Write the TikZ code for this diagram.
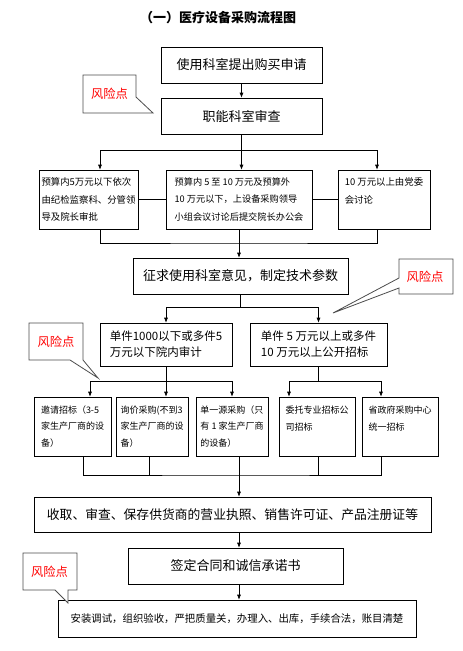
\documentclass[tikz,border=0pt]{standalone}
\usepackage{fontspec}
\setmainfont{Noto Sans CJK SC}
\usetikzlibrary{arrows.meta}
\begin{document}
\begin{tikzpicture}[x=1pt, y=-1pt, line width=0.6pt]
  \tikzset{
    box/.style={draw=black, inner sep=2pt, align=center, font=\fontsize{13}{15}\selectfont},
    cell/.style={draw=black, inner sep=2pt, align=left},
    tall/.style={cell, minimum height=59pt},
    flow/.style={draw=black, -{Latex[length=5pt,width=4pt]}},
    risk/.style={draw=black!70, fill=white, line width=0.8pt},
    risktext/.style={text=red, font=\fontsize{12.3}{14}\selectfont}
  }
  \useasboundingbox (0,0) rectangle (463,651);

  \node (title) at (218,18) {\bfseries\fontsize{13}{15}\selectfont （一）医疗设备采购流程图};

  \node[box, minimum width=161pt, minimum height=36pt] (apply) at (241.5,65) {使用科室提出购买申请};
  \node[box, minimum width=161pt, minimum height=36pt] (review) at (241.5,116) {职能科室审查};

  \node[tall, minimum width=99pt, font=\fontsize{9.4}{17.5}\selectfont] (small) at (88.5,199.5)
    {预算内5万元以下依次\\由纪检监察科、分管领\\导及院长审批};
  \node[tall, minimum width=146pt, font=\fontsize{9.2}{17.5}\selectfont] (middle) at (239,199.5)
    {预算内 5 至 10 万元及预算外\\10 万元以下，上设备采购领导\\小组会议讨论后提交院长办公会};
  \node[tall, minimum width=92pt, font=\fontsize{9.4}{17.5}\selectfont] (large) at (384,199.5)
    {10 万元以上由党委\\会讨论\\~};

  \node[box, minimum width=215pt, minimum height=36pt] (param) at (240.5,276) {征求使用科室意见，制定技术参数};

  \node[cell, minimum width=132pt, minimum height=43pt, font=\fontsize{11.5}{16}\selectfont] (inhouse) at (166,344.5)
    {单件1000以下或多件5\\万元以下院内审计};
  \node[cell, minimum width=137pt, minimum height=43pt, font=\fontsize{11.5}{16}\selectfont] (open) at (318.5,344.5)
    {单件 5 万元以上或多件\\10 万元以上公开招标};

  \node[tall, minimum width=77pt, font=\fontsize{9}{16.5}\selectfont] (invite) at (72.5,426.5)
    {邀请招标（3-5\\家生产厂商的设\\备）};
  \node[tall, minimum width=72pt, font=\fontsize{9}{16.5}\selectfont] (inquiry) at (152,426.5)
    {询价采购(不到3\\家生产厂商的设\\备）};
  \node[tall, minimum width=72pt, font=\fontsize{9}{16.5}\selectfont] (single) at (232,426.5)
    {单一源采购（只\\有 1 家生产厂商\\的设备）};
  \node[tall, minimum width=76pt, font=\fontsize{9}{16.5}\selectfont] (agency) at (317,426.5)
    {委托专业招标公\\司招标\\~};
  \node[tall, minimum width=76pt, font=\fontsize{9}{16.5}\selectfont] (province) at (400,426.5)
    {省政府采购中心\\统一招标\\~};

  \node[box, minimum width=397pt, minimum height=35pt, font=\fontsize{12.8}{15}\selectfont] (license) at (232.5,514.5)
    {收取、审查、保存供货商的营业执照、销售许可证、产品注册证等};
  \node[box, minimum width=215pt, minimum height=36pt] (contract) at (235.5,566) {签定合同和诚信承诺书};
  \node[box, minimum width=358pt, minimum height=37pt, font=\fontsize{10.4}{13}\selectfont] (install) at (237,618.5)
    {安装调试，组织验收，严把质量关，办理入、出库，手续合法，账目清楚};

  % approval levels
  \coordinate (split1) at (241.5,150);
  \draw[flow] (apply) -- (review);
  \draw[flow] (review) -- (review |- middle.north);
  \draw[flow] (split1) -| ([xshift=11.5pt]small.north);
  \draw[flow] (split1) -| ([xshift=-7pt]large.north);
  \draw (small) -- (middle) (middle) -- (large);
  \coordinate (merge1) at (239,243);
  \draw ([xshift=11.5pt]small.south) |- (merge1) -| ([xshift=-7pt]large.south);
  \draw (middle) -- (merge1);
  \draw[flow] (merge1) -- (merge1 |- param.north);

  % purchase ways
  \coordinate (split2) at (240.5,307);
  \draw (param) -- (split2);
  \draw[flow] (split2) -| (inhouse);
  \draw[flow] (split2) -| (open);
  \coordinate (split3) at (166,381);
  \draw (inhouse) -- (split3);
  \draw[flow] (split3) -| ([xshift=17.5pt]invite.north);
  \draw[flow] (split3) -| ([xshift=14pt]inquiry.north);
  \draw[flow] (split3) -| (single);
  \coordinate (split4) at (318.5,381);
  \draw (open) -- (split4);
  \draw[flow] (split4) -| ([xshift=-28pt]agency.north);
  \draw[flow] (split4) -| ([xshift=-19pt]province.north);

  \coordinate (merge2) at (239,475);
  \draw ([xshift=10.5pt]invite.south) |- (merge2) -| ([xshift=-19pt]province.south);
  \draw ([xshift=-3pt]inquiry.south) -- ([xshift=-3pt]inquiry.south |- merge2);
  \draw (single.south -| merge2) -- (merge2);
  \draw ([xshift=1pt]agency.south) -- ([xshift=1pt]agency.south |- merge2);
  \draw[flow] (merge2) -- (merge2 |- license.north);
  \draw[flow] (merge2 |- license.south) -- (merge2 |- contract.north);
  \draw[flow] (merge2 |- contract.south) -- (merge2 |- install.north);

  % risk points
  \draw[risk] (83,75) -- (136,75) -- (136,97) -- (153,113) -- (83,113) -- cycle;
  \node[risktext] (risk1) at (109.5,94) {风险点};
  \draw[risk] (399,259) -- (453,259) -- (453,294) -- (399,294) -- (399,288) -- (333,313) -- (399,278) -- cycle;
  \node[risktext] (risk2) at (425,277) {风险点};
  \draw[risk] (29,323) -- (83,323) -- (83,360) -- (98,378) -- (70,360) -- (29,360) -- cycle;
  \node[risktext] (risk3) at (56,342) {风险点};
  \draw[risk] (23,553) -- (77,553) -- (77,590) -- (68,590) -- (68,603) -- (55,590) -- (23,590) -- cycle;
  \node[risktext] (risk4) at (49.5,572) {风险点};
\end{tikzpicture}
\end{document}
